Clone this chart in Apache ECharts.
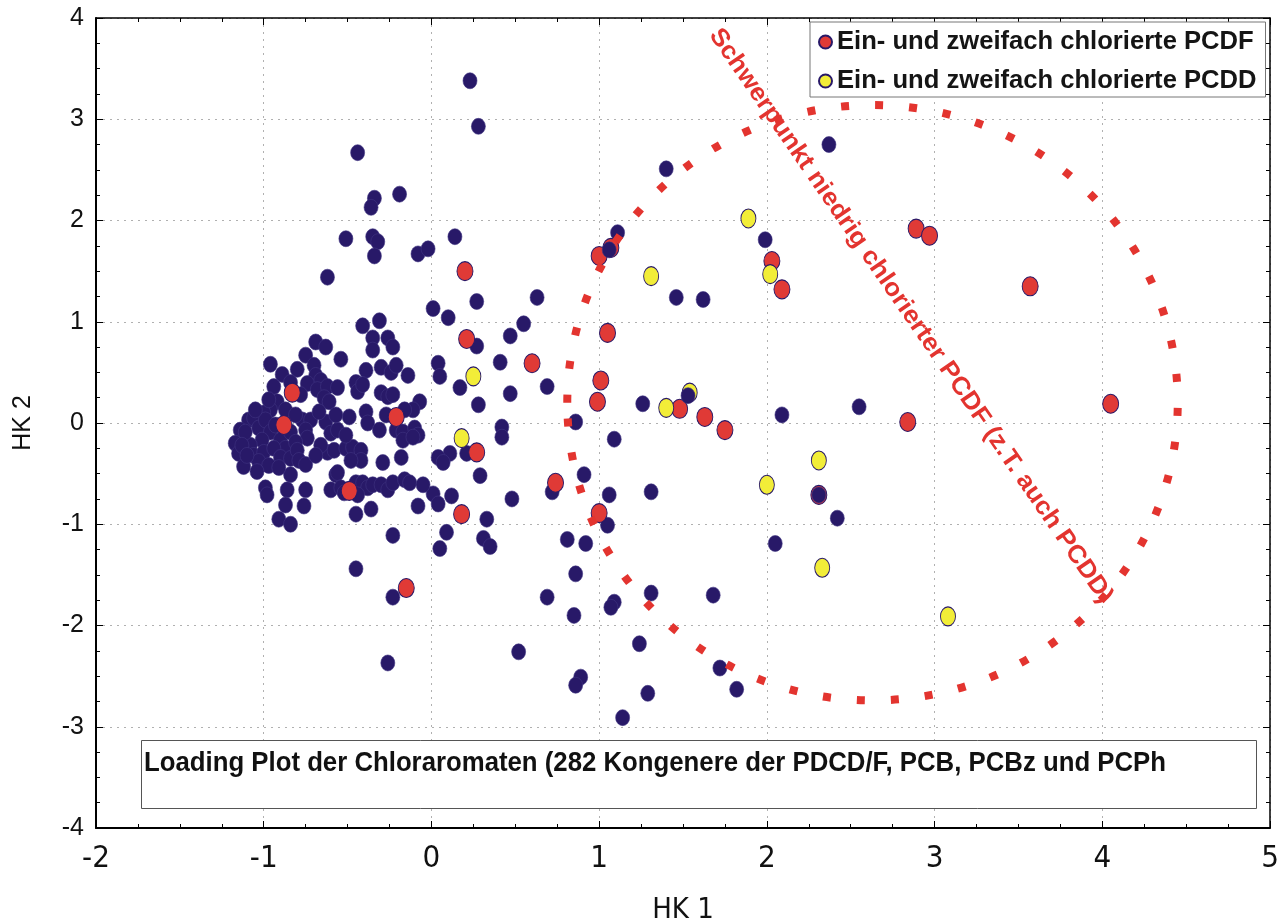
<!DOCTYPE html>
<html><head><meta charset="utf-8">
<script src="https://cdn.jsdelivr.net/npm/echarts@6/dist/echarts.min.js"></script>
<style>html,body{margin:0;padding:0;background:#fff}#c{width:1285px;height:924px}</style>
</head><body><div id="c"></div>
<script>
// ---- axis ranges / tick labels ----
const xRange = [-2, 5];
const yRange = [-4, 4];
const xName = 'HK 1';
const yName = 'HK 2';

// ---- series values [HK1, HK2] ----
const otherCongeners = [
[0.23,3.38],[0.28,2.93],[-0.44,2.67],[-0.34,2.22],[-0.36,2.13],[-0.19,2.26],[-0.51,1.82],[-0.35,1.84],[-0.32,1.79],[-0.34,1.65],[-0.08,1.67],[-0.02,1.72],[0.14,1.84],[-0.62,1.44],[0.27,1.20],[0.63,1.24],[0.01,1.13],[0.10,1.04],[0.55,0.98],[0.47,0.86],[-0.31,1.01],[-0.41,0.96],[1.40,2.51],[2.37,2.75],[1.11,1.88],[1.00,1.64],[1.46,1.24],[1.62,1.22],[1.99,1.81],
[0.27,0.76],[0.41,0.60],[0.04,0.59],[0.05,0.46],[0.17,0.35],[0.47,0.29],[0.69,0.36],[0.28,0.18],[0.42,-0.04],[0.42,-0.14],[0.21,-0.30],[0.11,-0.30],[0.04,-0.34],[0.07,-0.39],[0.29,-0.52],[0.01,-0.70],[0.04,-0.80],[0.12,-0.72],[-0.08,-0.82],[0.33,-0.95],[0.48,-0.75],[0.09,-1.08],[0.05,-1.24],[0.31,-1.14],[0.35,-1.22],[0.72,-0.68],[0.91,-0.51],[1.06,-0.71],[1.31,-0.68],[1.05,-1.01],[0.81,-1.15],[0.92,-1.19],[0.86,0.01],[1.09,-0.16],[1.26,0.19],[2.09,0.08],[2.55,0.16],[2.42,-0.94],[2.05,-1.19],
[0.86,-1.49],[0.69,-1.72],[0.85,-1.90],[1.09,-1.77],[1.07,-1.82],[1.31,-1.68],[1.68,-1.70],[0.52,-2.26],[1.24,-2.18],[0.89,-2.51],[0.86,-2.59],[1.72,-2.42],[1.82,-2.63],[1.29,-2.67],[1.14,-2.91],[-0.45,-1.44],[-0.26,-2.37],[-0.23,-1.72],[-0.23,-1.11],[-0.45,-0.90],[-0.36,-0.85],[-0.57,-0.51],
[-0.69,0.80],[-0.63,0.75],[-0.35,0.84],[-0.35,0.72],[-0.26,0.84],[-0.23,0.75],[-0.54,0.63],[-0.75,0.67],[-0.96,0.58],[-0.80,0.53],[-0.89,0.48],[-0.84,0.40],[-0.70,0.57],[-0.69,0.47],[-0.66,0.42],[-0.30,0.55],[-0.24,0.50],[-0.21,0.57],[-0.39,0.52],[-0.14,0.47],[-0.94,0.36],[-0.74,0.39],[-0.68,0.33],[-0.62,0.36],[-0.56,0.35],[-0.64,0.25],[-0.61,0.21],[-0.45,0.40],[-0.44,0.31],[-0.41,0.38],[-0.30,0.30],[-0.26,0.26],[-0.23,0.28],[-0.07,0.21],[-0.11,0.13],[-0.16,0.13],[-0.92,0.21],[-0.96,0.13],[-1.00,0.10],[-1.09,0.03],[-1.14,-0.07],[-1.17,-0.20],[-1.15,-0.30],[-0.77,0.03],[-0.72,0.03],[-0.75,-0.07],[-0.74,-0.15],[-0.63,0.01],[-0.60,-0.10],[-0.56,-0.07],[-0.49,0.06],[-0.39,0.11],[-0.38,0.00],[-0.31,-0.07],[-0.21,-0.07],[-0.17,-0.09],[-0.10,-0.05],[-0.08,-0.12],
[-1.06,0.05],[-1.03,-0.05],[-0.99,0.03],[-0.96,-0.09],[-1.01,-0.17],[-1.08,-0.22],[-0.93,-0.02],[-0.90,-0.17],[-0.87,-0.25],[-0.84,-0.09],[-0.81,-0.19],[-1.06,-0.32],[-1.00,-0.29],[-0.94,-0.25],[-0.90,-0.34],[-0.84,-0.35],[-1.03,-0.38],[-0.97,-0.42],[-0.80,-0.27],[-0.79,-0.37],[-0.75,-0.41],[-0.62,-0.29],[-0.58,-0.27],[-0.51,-0.25],[-0.47,-0.24],[-0.42,-0.27],[-0.42,-0.37],[-0.29,-0.39],[-0.18,-0.34],[-1.12,-0.43],[-1.04,-0.48],[-0.84,-0.51],[-0.56,-0.49],[-0.45,-0.59],[-0.41,-0.59],[-0.38,-0.64],[-0.35,-0.61],[-0.60,-0.66],[-0.54,-0.64],[-0.30,-0.61],[-0.26,-0.66],[-0.23,-0.59],[-0.16,-0.56],[-0.13,-0.59],[-0.05,-0.61],[-0.99,-0.64],[-0.98,-0.71],[-0.86,-0.66],[-0.75,-0.66],[-0.87,-0.81],[-0.76,-0.82],[-0.91,-0.95],[-0.84,-1.00],[-0.52,-0.69],[-0.44,-0.71],
[-1.11,-0.09],[-1.05,0.13],[-1.13,-0.22],[-0.97,0.23],[-0.87,0.13],[-0.81,0.08],[-0.67,0.11],[-0.66,-0.22],[-0.51,-0.12],[-0.27,0.08],[-0.17,-0.17],[-0.11,-0.14],[-1.10,-0.32],[-0.91,-0.44],[-0.69,-0.32],[-0.48,-0.37],[-0.57,0.08],[-0.78,0.28]
];
// dark points lying on top of coloured ones
const otherCongenersFront = [[1.06,1.71],[1.53,0.27],[2.31,-0.71]];
const pcdf = [[0.20,1.50],[0.21,0.83],[0.60,0.59],[1.05,0.89],[1.01,0.42],[0.99,0.21],[1.48,0.14],[1.63,0.06],[1.75,-0.07],[0.74,-0.59],[1.00,-0.89],[0.18,-0.90],[0.27,-0.29],[-0.15,-1.63],[-0.49,-0.67],[-0.21,0.06],[-0.83,0.30],[-0.88,-0.02],[1.07,1.73],[1.00,1.65],[2.03,1.60],[2.09,1.32],[2.89,1.92],[2.97,1.85],[3.57,1.35],[2.84,0.01],[4.05,0.19],[2.31,-0.71]];
const pcdd = [[0.25,0.46],[0.18,-0.15],[1.31,1.45],[1.40,0.15],[1.54,0.30],[1.89,2.02],[2.02,1.47],[2.31,-0.37],[2.00,-0.61],[2.33,-1.43],[3.08,-1.91]];
// dotted region: [centre HK1, centre HK2, radius HK1, radius HK2]
const focusRegion = [[2.63, 0.20, 1.82, 2.94]];

const pcdfName = 'Ein- und zweifach chlorierte PCDF';
const pcddName = 'Ein- und zweifach chlorierte PCDD';
const regionText = 'Schwerpunkt niedrig chlorierter PCDF (z.T. auch PCDD)';
const titleText = 'Loading Plot der Chloraromaten (282 Kongenere der PDCD/F, PCB, PCBz und PCPh';

const NAVY = '#281968', RED = '#e03a36', YEL = '#f2ed38';
const ELL = 'path://M50,0A50,50,0,1,1,50,100A50,50,0,1,1,50,0Z';
const SANS = "'Liberation Sans', Arial, sans-serif";
const NARROW = "'Liberation Sans Narrow', 'Arial Narrow', 'DejaVu Sans Condensed', sans-serif";

function textWidth(t, font){const c=document.createElement('canvas').getContext('2d');c.font=font;return c.measureText(t).width;}
const titleFont = "bold 28px 'Liberation Sans', Arial, sans-serif";
const titleScale = 1022 / textWidth(titleText, titleFont);
const regionFont = "bold 25px 'Liberation Sans', Arial, sans-serif";
const regionScale = 692 / textWidth(regionText, regionFont);

const chart = echarts.init(document.getElementById('c'));
const tickCommon = {show:true, inside:true, length:7, lineStyle:{color:'#000', width:1}};
const minorCommon = {show:true, splitNumber:4, length:4, lineStyle:{color:'#000', width:1}};
chart.setOption({
  animation:false,
  backgroundColor:'#fff',
  textStyle:{fontFamily:SANS},
  grid:{left:96, right:15, top:18, bottom:96, containLabel:false, outerBoundsMode:'none'},
  xAxis:[{
    type:'value', min:xRange[0], max:xRange[1], interval:1,
    name:xName, nameLocation:'middle', nameGap:68,
    nameTextStyle:{fontSize:29, fontFamily:NARROW, color:'#111'},
    axisLine:{show:true, onZero:false, lineStyle:{color:'#000', width:2}},
    axisTick:tickCommon, minorTick:minorCommon,
    axisLabel:{fontSize:31, fontFamily:NARROW, color:'#111', margin:15},
    splitLine:{show:true, lineStyle:{color:'#b0b0b0', type:[2,5], width:1}}
  },{
    type:'value', position:'top', min:xRange[0], max:xRange[1], interval:1,
    axisLine:{show:true, onZero:false, lineStyle:{color:'#000', width:1.5}},
    axisTick:tickCommon, minorTick:minorCommon, axisLabel:{show:false}, splitLine:{show:false}
  }],
  yAxis:[{
    type:'value', min:yRange[0], max:yRange[1], interval:1,
    name:yName, nameLocation:'middle', nameGap:60, nameRotate:90,
    nameTextStyle:{fontSize:25, color:'#111'},
    axisLine:{show:true, onZero:false, lineStyle:{color:'#000', width:2}},
    axisTick:tickCommon, minorTick:minorCommon,
    axisLabel:{fontSize:25, color:'#111', margin:12},
    splitLine:{show:true, lineStyle:{color:'#b0b0b0', type:[2,5], width:1}}
  },{
    type:'value', position:'right', min:yRange[0], max:yRange[1], interval:1,
    axisLine:{show:true, onZero:false, lineStyle:{color:'#000', width:1.5}},
    axisTick:tickCommon, minorTick:minorCommon, axisLabel:{show:false}, splitLine:{show:false}
  }],
  legend:{
    left:810, top:22, orient:'vertical', selectedMode:false,
    data:[{name:pcdfName, icon:ELL},{name:pcddName, icon:ELL}],
    itemWidth:13, itemHeight:16, itemGap:13,
    padding:[7,9,3,8],
    borderColor:'#777', borderWidth:1, backgroundColor:'#fff',
    textStyle:{fontSize:25.6, fontWeight:'bold', color:'#151515', fontFamily:SANS, lineHeight:26}
  },
  series:[
    {name:'Kongenere', type:'scatter', data:otherCongeners, symbol:ELL, symbolSize:[14,16],
     itemStyle:{color:NAVY, opacity:1, borderColor:'#3f3482', borderWidth:0.6}, silent:true},
    {name:pcdfName, type:'scatter', data:pcdf, symbol:ELL, symbolSize:[16,19],
     itemStyle:{color:RED, opacity:1, borderColor:NAVY, borderWidth:1}, silent:true},
    {name:pcddName, type:'scatter', data:pcdd, symbol:ELL, symbolSize:[15,19],
     itemStyle:{color:YEL, opacity:1, borderColor:NAVY, borderWidth:1}, silent:true},
    {name:'Kongenere ', type:'scatter', data:otherCongenersFront, symbol:ELL, symbolSize:[14,16],
     itemStyle:{color:NAVY, opacity:1, borderColor:'#3f3482', borderWidth:0.6}, silent:true},
    {name:'Schwerpunkt', type:'custom', data:focusRegion, silent:true, z:5,
     renderItem:function(params, api){
       const c = api.coord([api.value(0), api.value(1)]);
       const s = api.size([api.value(2), api.value(3)]);
       return {type:'ellipse', shape:{cx:c[0], cy:c[1], rx:s[0], ry:s[1]},
         style:{fill:null, stroke:'#e3342f', lineWidth:8, lineDash:[8,26]}};
     }}
  ],
  graphic:[
    {type:'rect', shape:{x:141.5, y:740.5, width:1115, height:68}, style:{fill:'#fff', stroke:'#555', lineWidth:1}, z:50},
    {type:'text', x:144, y:763, scaleX:titleScale, z:51,
     style:{text:titleText, font:titleFont, fill:'#111', textVerticalAlign:'middle', verticalAlign:'middle'}},
    {type:'text', x:911, y:316, rotation:-55.4*Math.PI/180, scaleX:regionScale, z:60,
     style:{text:regionText, font:regionFont, fill:'#e3342f', align:'center', verticalAlign:'middle', textAlign:'center', textVerticalAlign:'middle'}}
  ]
});
</script></body></html>
